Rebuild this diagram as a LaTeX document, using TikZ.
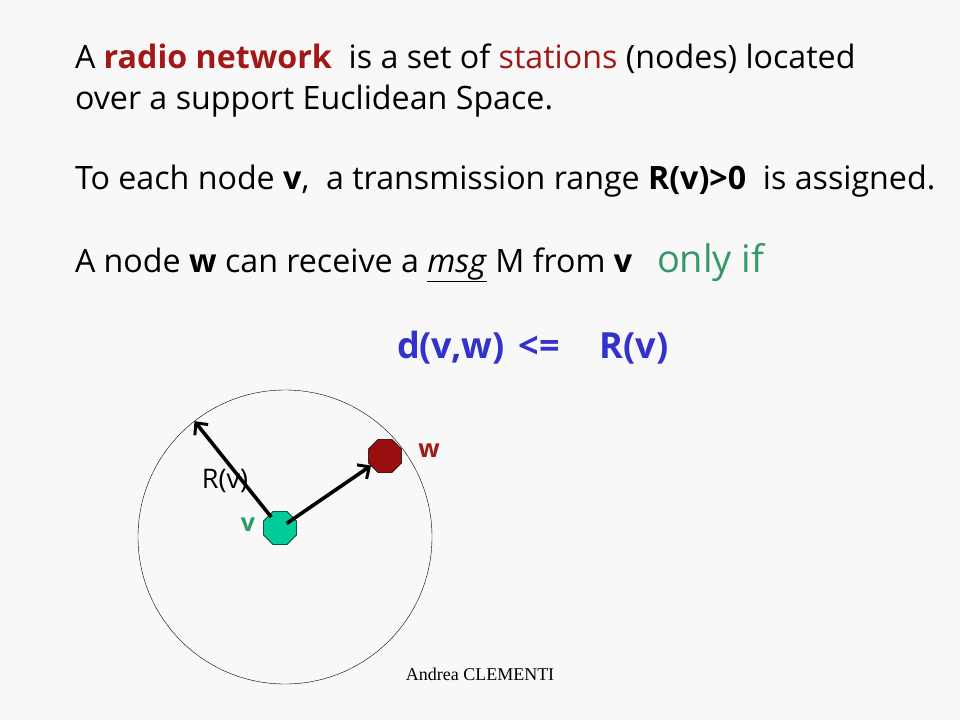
\documentclass[tikz,border=0pt]{standalone}
\usepackage{fontspec}
\setmainfont{Open Sans}
\newfontfamily\footfont{Liberation Serif}
\usetikzlibrary{arrows.meta,shapes.geometric}
\definecolor{slidebg}{HTML}{F8F8F8}
\definecolor{netred}{HTML}{A01818}
\definecolor{onlygreen}{HTML}{339966}
\definecolor{condblue}{HTML}{3333CC}
\definecolor{vgreen}{HTML}{00CC99}
\definecolor{wred}{HTML}{990F0F}
\definecolor{vlabel}{HTML}{2E9966}

\begin{document}
\begin{tikzpicture} [x=1pt,y=-1pt,
  every node/.style={inner sep=0pt,outer sep=0pt},
  line/.style={anchor=base west,font=\fontsize{32.2}{38}\selectfont},
  station/.style={draw,thin,regular polygon,regular polygon sides=8,minimum size=36pt},
  edge/.style={-{Straight Barb[length=9pt,width=17pt,line width=3pt]},line width=3.6pt}]
\fill[slidebg] (0,0) rectangle (960,720);

\node (l1) [line] at (75,68) {A \textcolor{netred}{\textbf{radio network}}\ \ is a set of \textcolor{netred}{stations} (nodes) located};
\node (l2) [line] at (75,109) {over a support Euclidean Space.};
\node (l3) [line] at (75,189) {To each node \textbf{v},\ \ a transmission range \textbf{R(v)>0}\ \ is assigned.};
\node (l4) [line] at (75,272) {A node \textbf{w} can receive a \underline{\textit{msg}} M from \textbf{v}};
\node (only) [line,font=\fontsize{38}{44}\selectfont,text=onlygreen] at (657,272) {only if};
\node (cond) [line,font=\fontsize{36}{41}\selectfont\bfseries,text=condblue] at (397,358) {d(v,w)\hspace{14pt}<=\hspace{40pt}R(v)};

\node (range) [draw,thin,circle,minimum size=294pt] at (285,537) {};
\node (v) [station,fill=vgreen] at (280,528) {};
\node (w) [station,fill=wred] at (385,456) {};
\coordinate (rtip) at (range.128);

\draw[edge,shorten <=14pt](v.center)--(rtip);
\draw[edge,shorten <=8pt](v.center)--(w);

\node (rv) [font=\fontsize{27}{32}\selectfont] at (225,481) {R(v)};
\node (vl) [font=\fontsize{25}{30}\selectfont\bfseries,text=vlabel] at (248,525) {v};
\node (wl) [font=\fontsize{25}{30}\selectfont\bfseries,text=netred] at (429,451) {w};
\node (foot) [anchor=base,font=\footfont\fontsize{18}{22}\selectfont] at (480,680) {Andrea CLEMENTI};
\end{tikzpicture}
\end{document}
